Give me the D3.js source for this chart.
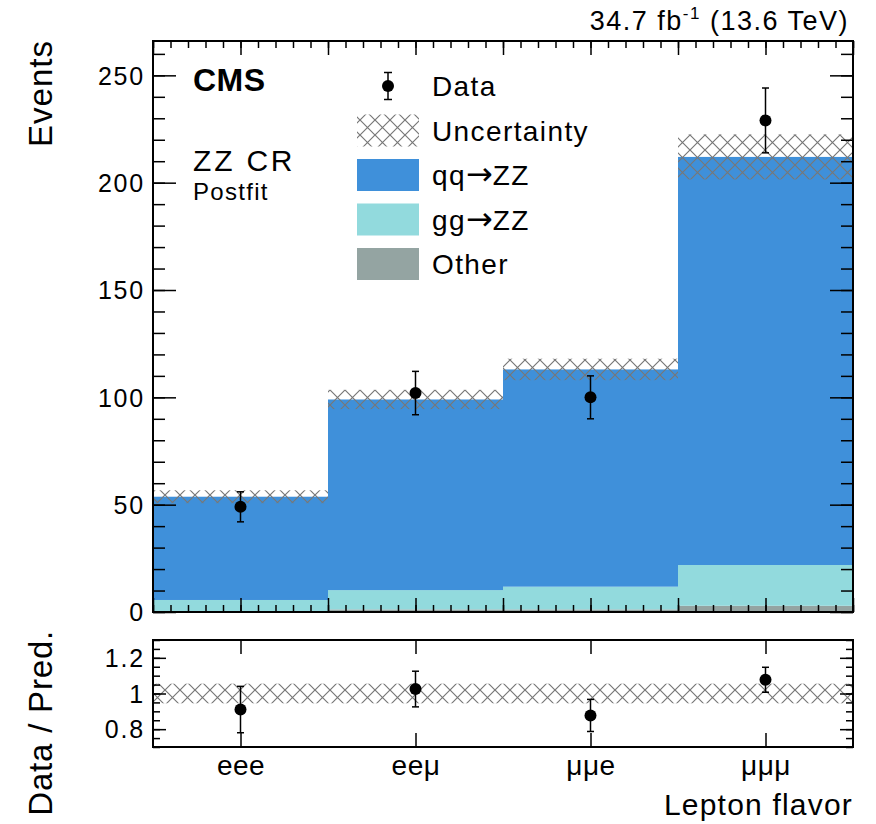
<!DOCTYPE html>
<html lang="en">
<head>
<meta charset="UTF-8">
<title>ZZ CR postfit</title>
<script src="https://d3js.org/d3.v7.min.js"></script>
<style>
  body { margin: 0; background: #fff; }
  svg text { font-family: "Liberation Sans", Arial, Helvetica, sans-serif; fill: #000; }
</style>
</head>
<body>
<svg id="chart" width="876" height="824"></svg>
<script>
// values
const categories = ["eee", "eeμ", "μμe", "μμμ"];
const qqZZ = [48.1, 88.8, 101.2, 190.1];
const ggZZ = [5.3, 9.0, 10.6, 19.0];
const other = [0.3, 1.2, 1.2, 2.9];
const uncert = [3.0, 4.5, 5.0, 10.5];
const dataVals = [49, 102, 100, 229];
const dataErr = [7.0, 10.1, 10.0, 15.1];
const ratioVals = [0.91, 1.025, 0.877, 1.077];
const ratioErr = [0.13, 0.10, 0.09, 0.07];
const ratioUnc = [0.055, 0.055, 0.055, 0.055];
const yTicks = [0, 50, 100, 150, 200, 250];
const ratioTicks = [0.8, 1, 1.2];

const colors = { qq: "#3f90da", gg: "#92dadd", other: "#94a4a2" };

const svg = d3.select("#chart");

const left = 153, right = 853;
const x = d3.scaleLinear().domain([0, 4]).range([left, right]);
const y = d3.scaleLinear().domain([0, 266]).range([612, 41]);
const yr = d3.scaleLinear().domain([0.7, 1.3]).range([747, 640]);

// hatch pattern
const defs = svg.append("defs");
defs.append("pattern")
  .attr("id", "hatch")
  .attr("patternUnits", "userSpaceOnUse")
  .attr("width", 15).attr("height", 15)
  .append("path")
  .attr("d", "M-1,-1L16,16M16,-1L-1,16")
  .attr("stroke", "#777")
  .attr("stroke-width", 1.2)
  .attr("fill", "none");

// stacked histogram
const rows = categories.map((c, i) => ({ cat: c, i: i, other: other[i], gg: ggZZ[i], qq: qqZZ[i] }));
const stack = d3.stack().keys(["other", "gg", "qq"])(rows);

const main = svg.append("g");
stack.forEach(layer => {
  main.selectAll(null)
    .data(layer)
    .enter()
    .append("rect")
    .attr("x", d => x(d.data.i))
    .attr("width", d => x(d.data.i + 1) - x(d.data.i))
    .attr("y", d => y(d[1]))
    .attr("height", d => y(d[0]) - y(d[1]))
    .attr("fill", colors[layer.key]);
});

const totals = rows.map(r => r.other + r.gg + r.qq);

// uncertainty band
main.selectAll(".unc")
  .data(rows)
  .enter()
  .append("rect")
  .attr("class", "unc")
  .attr("x", d => x(d.i))
  .attr("width", d => x(d.i + 1) - x(d.i))
  .attr("y", d => y(totals[d.i] + uncert[d.i]))
  .attr("height", d => y(totals[d.i] - uncert[d.i]) - y(totals[d.i] + uncert[d.i]))
  .attr("fill", "url(#hatch)");

function drawPoints(g, vals, errs, ys) {
  const pts = g.selectAll(null)
    .data(vals.map((v, i) => ({ v: v, e: errs[i], i: i })))
    .enter()
    .append("g");
  pts.append("line")
    .attr("x1", d => x(d.i + 0.5)).attr("x2", d => x(d.i + 0.5))
    .attr("y1", d => ys(d.v - d.e)).attr("y2", d => ys(d.v + d.e))
    .attr("stroke", "#000").attr("stroke-width", 1.5);
  [-1, 1].forEach(s => {
    pts.append("line")
      .attr("x1", d => x(d.i + 0.5) - 3.5).attr("x2", d => x(d.i + 0.5) + 3.5)
      .attr("y1", d => ys(d.v + s * d.e)).attr("y2", d => ys(d.v + s * d.e))
      .attr("stroke", "#000").attr("stroke-width", 1.5);
  });
  pts.append("circle")
    .attr("cx", d => x(d.i + 0.5))
    .attr("cy", d => ys(d.v))
    .attr("r", 6)
    .attr("fill", "#000");
}
drawPoints(main, dataVals, dataErr, y);

// main axes (ticks inward)
const xMajor = d3.range(0, 4.01, 0.5);
const xMinor = d3.range(0, 4.01, 0.1);
const yMinor = d3.range(0, 266, 10);

function styleAxis(g) {
  g.select(".domain").remove();
  g.selectAll(".tick line").attr("stroke", "#000").attr("stroke-width", 1.5);
  g.selectAll(".tick text").attr("font-size", 25).attr("letter-spacing", 1.8).attr("fill", "#000");
}

svg.append("g").attr("transform", `translate(${left},0)`)
  .call(d3.axisLeft(y).tickValues(yMinor).tickSize(-12).tickFormat("")).call(styleAxis);
svg.append("g").attr("transform", `translate(${left},0)`)
  .call(d3.axisLeft(y).tickValues(yTicks).tickSize(-23).tickPadding(8)).call(styleAxis);
svg.selectAll(".tick text").attr("dy", "0.35em");
svg.append("g").attr("transform", `translate(${right},0)`)
  .call(d3.axisRight(y).tickValues(yMinor).tickSize(-12).tickFormat("")).call(styleAxis);
svg.append("g").attr("transform", `translate(${right},0)`)
  .call(d3.axisRight(y).tickValues(yTicks).tickSize(-23).tickFormat("")).call(styleAxis);

[[y(0), d3.axisBottom], [y.range()[1], d3.axisTop]].forEach(([py, ax]) => {
  svg.append("g").attr("transform", `translate(0,${py})`)
    .call(ax(x).tickValues(xMinor).tickSize(-7).tickFormat("")).call(styleAxis);
  svg.append("g").attr("transform", `translate(0,${py})`)
    .call(ax(x).tickValues(xMajor).tickSize(-14).tickFormat("")).call(styleAxis);
});

svg.append("rect")
  .attr("x", left).attr("y", y.range()[1])
  .attr("width", right - left).attr("height", y(0) - y.range()[1])
  .attr("fill", "none").attr("stroke", "#000").attr("stroke-width", 2);

// ratio panel
const rp = svg.append("g");
rp.append("rect")
  .attr("x", left).attr("width", right - left)
  .attr("y", yr(1 + ratioUnc[0]))
  .attr("height", yr(1 - ratioUnc[0]) - yr(1 + ratioUnc[0]))
  .attr("fill", "url(#hatch)");
drawPoints(rp, ratioVals, ratioErr, yr);

const rMinor = d3.range(0.7, 1.301, 0.05);
const xCenters = categories.map((c, i) => i + 0.5);
svg.append("g").attr("transform", `translate(${left},0)`)
  .call(d3.axisLeft(yr).tickValues(rMinor).tickSize(-7).tickFormat("")).call(styleAxis);
const rAxis = svg.append("g").attr("transform", `translate(${left},0)`)
  .call(d3.axisLeft(yr).tickValues(ratioTicks).tickSize(-13).tickPadding(8).tickFormat(d3.format("~g"))).call(styleAxis);
rAxis.selectAll(".tick text").attr("dy", "0.35em");
svg.append("g").attr("transform", `translate(${right},0)`)
  .call(d3.axisRight(yr).tickValues(rMinor).tickSize(-7).tickFormat("")).call(styleAxis);
svg.append("g").attr("transform", `translate(${right},0)`)
  .call(d3.axisRight(yr).tickValues(ratioTicks).tickSize(-13).tickFormat("")).call(styleAxis);
svg.append("g").attr("transform", `translate(0,${yr.range()[1]})`)
  .call(d3.axisTop(x).tickValues(xCenters).tickSize(-14).tickFormat("")).call(styleAxis);
const bx = svg.append("g").attr("transform", `translate(0,${yr.range()[0]})`)
  .call(d3.axisBottom(x).tickValues(xCenters).tickSize(-14).tickPadding(8)
    .tickFormat((d, i) => categories[i])).call(styleAxis);
bx.selectAll(".tick text").attr("font-size", 28).attr("dy", "0.72em").attr("letter-spacing", 0.5);

svg.append("rect")
  .attr("x", left).attr("y", yr.range()[1])
  .attr("width", right - left).attr("height", yr.range()[0] - yr.range()[1])
  .attr("fill", "none").attr("stroke", "#000").attr("stroke-width", 2);

// titles
svg.append("text")
  .attr("transform", "translate(52,40) rotate(-90)")
  .attr("text-anchor", "end").attr("font-size", 33).attr("letter-spacing", 1)
  .text("Events");
svg.append("text")
  .attr("transform", "translate(52,630) rotate(-90)")
  .attr("text-anchor", "end").attr("font-size", 33).attr("letter-spacing", 0.8)
  .text("Data / Pred.");
svg.append("text")
  .attr("x", 853).attr("y", 815)
  .attr("text-anchor", "end").attr("font-size", 30).attr("letter-spacing", 1.2)
  .text("Lepton flavor");

const lumi = svg.append("text")
  .attr("x", 849).attr("y", 30)
  .attr("text-anchor", "end").attr("font-size", 27).attr("letter-spacing", 1.5);
lumi.append("tspan").text("34.7 fb");
lumi.append("tspan").attr("font-size", 17).attr("dy", -11).text("-1");
lumi.append("tspan").attr("dy", 11).text(" (13.6 TeV)");

svg.append("text").attr("x", 193).attr("y", 91)
  .attr("font-size", 32).attr("font-weight", "bold").attr("letter-spacing", 0.5).text("CMS");
svg.append("text").attr("x", 193).attr("y", 171)
  .attr("font-size", 30).attr("letter-spacing", 2.8).text("ZZ CR");
svg.append("text").attr("x", 193).attr("y", 200)
  .attr("font-size", 24).attr("letter-spacing", 1.3).text("Postfit");

// legend
const legendItems = [
  { label: ["Data"], type: "data" },
  { label: ["Uncertainty"], type: "hatch" },
  { label: ["qq", "→", "ZZ"], type: colors.qq },
  { label: ["gg", "→", "ZZ"], type: colors.gg },
  { label: ["Other"], type: colors.other }
];
const leg = svg.append("g");
legendItems.forEach((it, k) => {
  const cy = 86 + k * 44.5;
  if (it.type === "data") {
    leg.append("line").attr("x1", 388).attr("x2", 388).attr("y1", cy - 13.5).attr("y2", cy + 13.5)
      .attr("stroke", "#000").attr("stroke-width", 1.5);
    [-13.5, 13.5].forEach(o => leg.append("line").attr("x1", 384).attr("x2", 392)
      .attr("y1", cy + o).attr("y2", cy + o).attr("stroke", "#000").attr("stroke-width", 1.5));
    leg.append("circle").attr("cx", 388).attr("cy", cy).attr("r", 6).attr("fill", "#000");
  } else {
    leg.append("rect").attr("x", 357).attr("y", cy - 16).attr("width", 62).attr("height", 32)
      .attr("fill", it.type === "hatch" ? "url(#hatch)" : it.type);
  }
  const t = leg.append("text").attr("x", 432).attr("y", cy).attr("dy", "0.36em")
    .attr("font-size", 28).attr("letter-spacing", 1.4);
  it.label.forEach(part => {
    const sp = t.append("tspan").text(part);
    if (part === "→") sp.attr("font-family", "DejaVu Sans").attr("font-size", 32).attr("letter-spacing", 0);
  });
});
</script>
</body>
</html>
